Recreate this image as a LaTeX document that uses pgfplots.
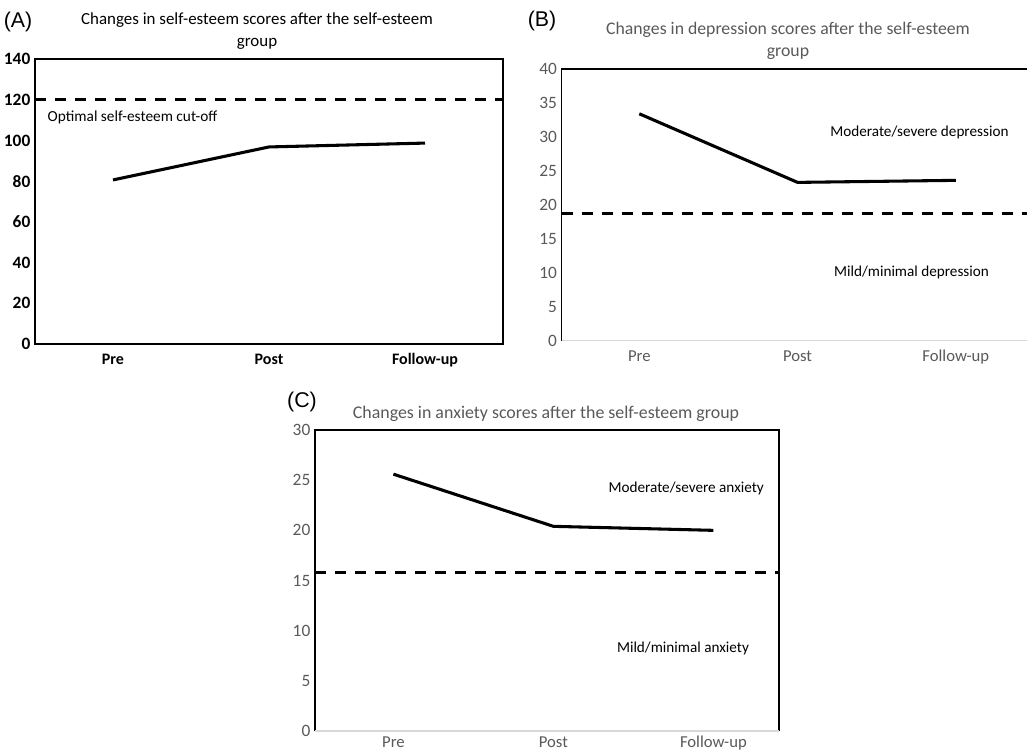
\documentclass[border=0pt]{standalone}
\usepackage{fontspec}
\setmainfont{Carlito}
\newfontfamily\arialfont{Liberation Sans}
\usepackage{pgfplots}
\pgfplotsset{compat=1.18}
\definecolor{txtgray}{HTML}{595959}
\definecolor{axgray}{HTML}{D9D9D9}
\pgfplotsset{
  common/.style={
    scale only axis,
    xmin=-0.5, xmax=2.5,
    xtick={0,1,2},
    xticklabels={Pre,Post,Follow-up},
    major tick length=0pt,
    axis line style={draw=none},
    tick align=outside,
    /pgf/number format/assume math mode=true,
    yticklabel style={font=\fontsize{13}{15}\selectfont},
    xticklabel style={font=\fontsize{12.5}{15}\selectfont, text height=0.7em, text depth=0.22em, yshift=-5pt},
    clip=false,
  },
  dataline/.style={black, line width=2.3pt, line join=round},
  cutline/.style={black, line width=2.3pt, dash pattern=on 8.5pt off 6.5pt},
}
\begin{document}
\begin{tikzpicture}
\useasboundingbox (0,0) rectangle (771.75pt,-565.5pt);
% ---------------- Panel A
\begin{axis}[common,
  at={(26.25pt,-258pt)}, anchor=south west,
  width=351pt, height=213.75pt,
  ymin=0, ymax=140, ytick={0,20,...,140},
  yticklabel style={font=\fontsize{13}{15}\selectfont\bfseries},
  xticklabel style={font=\fontsize{12}{15}\selectfont\bfseries},
]
\draw[black, line width=0.9pt] (rel axis cs:0,0) rectangle (rel axis cs:1,1);
\addplot[cutline] coordinates {(-0.5,120) (2.5,120)};
\addplot[dataline] coordinates {(0,80.6) (1,96.8) (2,98.7)};
\node[anchor=west, font=\fontsize{11.5}{14}\selectfont, inner sep=0pt] at (axis cs:-0.42,111.5) {Optimal self-esteem cut-off};
\end{axis}
% ---------------- Panel B
\begin{axis}[common,
  at={(421.3pt,-255.5pt)}, anchor=south west,
  width=349pt, height=203.8pt,
  xmin=-0.49, xmax=2.45,
  ymin=0, ymax=40, ytick={0,5,...,40},
  ticklabel style={text=txtgray},
]
\draw[black, line width=0.9pt] (rel axis cs:0,0) -- (rel axis cs:0,1) -- (rel axis cs:1,1);
\draw[axgray, line width=0.9pt] (rel axis cs:0,0) -- (rel axis cs:1,0);
\addplot[cutline] coordinates {(-0.49,18.75) (2.45,18.75)};
\addplot[dataline] coordinates {(0,33.4) (1,23.3) (2,23.6)};
\node[font=\fontsize{11.4}{14}\selectfont] at (axis cs:1.77,30.7) {Moderate/severe depression};
\node[font=\fontsize{11.4}{14}\selectfont] at (axis cs:1.72,10.0) {Mild/minimal depression};
\end{axis}
% ---------------- Panel C
\begin{axis}[common,
  at={(236.25pt,-548.25pt)}, anchor=south west,
  width=348pt, height=225.75pt,
  xmin=-0.49, xmax=2.41,
  ymin=0, ymax=30, ytick={0,5,...,30},
  ticklabel style={text=txtgray},
  xticklabel style={yshift=3pt},
]
\draw[black, line width=0.9pt] (rel axis cs:0,0) -- (rel axis cs:0,1) -- (rel axis cs:1,1) -- (rel axis cs:1,0);
\draw[axgray, line width=0.9pt] (rel axis cs:0,0) -- (rel axis cs:1,0);
\addplot[cutline] coordinates {(-0.49,15.8) (2.41,15.8)};
\addplot[dataline] coordinates {(0,25.6) (1,20.4) (2,20.0)};
\node[font=\fontsize{11.4}{14}\selectfont] at (axis cs:1.83,24.2) {Moderate/severe anxiety};
\node[font=\fontsize{11.4}{14}\selectfont] at (axis cs:1.81,8.2) {Mild/minimal anxiety};
\end{axis}
% ---------------- Titles and panel letters
\begin{scope}[x=0.75pt, y=-0.75pt]
\node[font=\arialfont\fontsize{16}{18}\selectfont] at (18,22) {(A)};
\node[font=\arialfont\fontsize{16}{18}\selectfont] at (542,21) {(B)};
\node[font=\arialfont\fontsize{16}{18}\selectfont] at (302,402) {(C)};
\node[font=\fontsize{12.7}{16.5}\selectfont, align=center] at (257,31) {Changes in self-esteem scores after the self-esteem\\group};
\node[font=\fontsize{13.3}{16}\selectfont, text=txtgray, align=center] at (788,41) {Changes in depression scores after the self-esteem\\group};
\node[font=\fontsize{13.4}{16}\selectfont, text=txtgray] at (546,414) {Changes in anxiety scores after the self-esteem group};
\end{scope}
\end{tikzpicture}
\end{document}
